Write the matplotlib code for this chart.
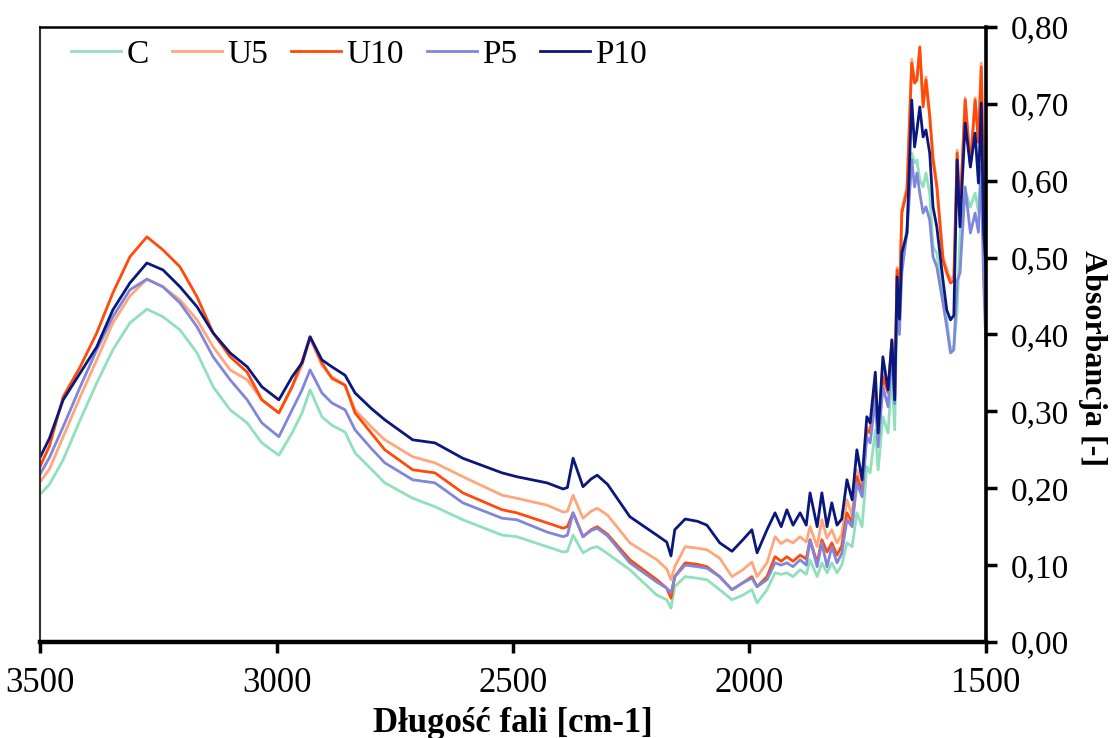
import numpy as np
import matplotlib
matplotlib.use("Agg")
import matplotlib.pyplot as plt

plt.rcParams['font.family'] = ['Liberation Serif', 'DejaVu Serif']

# wavenumber [cm-1] and absorbance
wavenumber = [3500, 3480, 3451, 3415, 3380, 3346, 3310, 3274, 3240, 3204, 3168, 3134, 3098, 3062, 3031,
              2995, 2967, 2946, 2929, 2904, 2883, 2855, 2834, 2800, 2771, 2712, 2665, 2606, 2523, 2492,
              2428, 2394, 2385, 2373, 2352, 2335, 2322, 2300, 2253, 2196, 2175, 2166, 2158, 2136, 2110,
              2090, 2063, 2037, 2014, 1995, 1984, 1963, 1946, 1933, 1921, 1908, 1893, 1880, 1872, 1857,
              1847, 1836, 1826, 1815, 1805, 1794, 1783, 1773, 1762, 1752, 1745, 1734, 1728, 1718, 1707,
              1699, 1693, 1688, 1683, 1678, 1667, 1657, 1651, 1646, 1640, 1633, 1627, 1619, 1612, 1604,
              1591, 1583, 1575, 1568, 1561, 1555, 1544, 1533, 1523, 1516, 1510, 1505, 1500]

C = [0.192, 0.205, 0.237, 0.289, 0.337, 0.380, 0.415, 0.433, 0.423, 0.406, 0.376, 0.332, 0.302, 0.285, 0.259,
     0.243, 0.272, 0.298, 0.328, 0.293, 0.282, 0.273, 0.246, 0.225, 0.207, 0.187, 0.176, 0.159, 0.139, 0.137,
     0.124, 0.117, 0.118, 0.139, 0.116, 0.122, 0.124, 0.115, 0.094, 0.061, 0.055, 0.044, 0.072, 0.085, 0.083,
     0.081, 0.068, 0.055, 0.061, 0.068, 0.051, 0.068, 0.090, 0.088, 0.090, 0.085, 0.094, 0.088, 0.107, 0.085,
     0.103, 0.090, 0.103, 0.090, 0.100, 0.129, 0.124, 0.168, 0.150, 0.228, 0.220, 0.276, 0.224, 0.293, 0.272,
     0.350, 0.276, 0.462, 0.420, 0.497, 0.540, 0.636, 0.623, 0.627, 0.601, 0.592, 0.610, 0.584, 0.514, 0.506,
     0.454, 0.420, 0.380, 0.385, 0.430, 0.532, 0.587, 0.566, 0.584, 0.560, 0.627, 0.480, 0.445]

U5 = [0.208, 0.225, 0.267, 0.319, 0.367, 0.415, 0.450, 0.472, 0.462, 0.445, 0.419, 0.384, 0.354, 0.341, 0.315,
      0.298, 0.332, 0.360, 0.395, 0.360, 0.345, 0.334, 0.302, 0.280, 0.263, 0.241, 0.233, 0.215, 0.191, 0.187,
      0.178, 0.169, 0.170, 0.191, 0.161, 0.170, 0.174, 0.165, 0.129, 0.107, 0.095, 0.081, 0.098, 0.124, 0.122,
      0.120, 0.109, 0.085, 0.094, 0.104, 0.085, 0.103, 0.137, 0.128, 0.133, 0.129, 0.137, 0.130, 0.150, 0.124,
      0.159, 0.135, 0.146, 0.129, 0.140, 0.185, 0.165, 0.224, 0.198, 0.280, 0.276, 0.328, 0.263, 0.350, 0.328,
      0.393, 0.320, 0.487, 0.445, 0.562, 0.592, 0.758, 0.730, 0.735, 0.770, 0.700, 0.735, 0.688, 0.632, 0.596,
      0.502, 0.485, 0.472, 0.475, 0.640, 0.562, 0.708, 0.622, 0.708, 0.655, 0.753, 0.605, 0.565]

U10 = [0.228, 0.255, 0.319, 0.358, 0.402, 0.454, 0.501, 0.527, 0.510, 0.488, 0.449, 0.402, 0.371, 0.351, 0.315,
       0.298, 0.332, 0.365, 0.397, 0.363, 0.343, 0.334, 0.298, 0.272, 0.250, 0.224, 0.220, 0.194, 0.172, 0.168,
       0.155, 0.148, 0.150, 0.168, 0.137, 0.146, 0.150, 0.140, 0.107, 0.081, 0.070, 0.057, 0.085, 0.103, 0.101,
       0.098, 0.085, 0.068, 0.077, 0.085, 0.072, 0.085, 0.111, 0.105, 0.111, 0.105, 0.113, 0.108, 0.133, 0.103,
       0.133, 0.117, 0.129, 0.113, 0.125, 0.168, 0.155, 0.215, 0.194, 0.276, 0.272, 0.324, 0.263, 0.345, 0.324,
       0.390, 0.318, 0.484, 0.445, 0.558, 0.588, 0.753, 0.727, 0.731, 0.774, 0.696, 0.731, 0.683, 0.627, 0.592,
       0.497, 0.480, 0.467, 0.470, 0.636, 0.558, 0.705, 0.618, 0.705, 0.650, 0.748, 0.590, 0.540]

P5 = [0.218, 0.240, 0.280, 0.332, 0.380, 0.423, 0.458, 0.472, 0.462, 0.441, 0.410, 0.371, 0.341, 0.315, 0.285,
      0.267, 0.302, 0.328, 0.354, 0.324, 0.311, 0.302, 0.276, 0.252, 0.233, 0.211, 0.207, 0.181, 0.161, 0.159,
      0.143, 0.137, 0.139, 0.168, 0.137, 0.145, 0.148, 0.138, 0.103, 0.078, 0.070, 0.064, 0.085, 0.100, 0.098,
      0.096, 0.085, 0.068, 0.077, 0.083, 0.072, 0.081, 0.103, 0.100, 0.103, 0.098, 0.107, 0.100, 0.133, 0.098,
      0.129, 0.098, 0.124, 0.103, 0.115, 0.159, 0.150, 0.207, 0.189, 0.267, 0.259, 0.315, 0.254, 0.332, 0.306,
      0.376, 0.310, 0.454, 0.400, 0.480, 0.533, 0.627, 0.592, 0.610, 0.584, 0.558, 0.566, 0.549, 0.501, 0.488,
      0.441, 0.410, 0.376, 0.380, 0.470, 0.480, 0.592, 0.532, 0.558, 0.533, 0.618, 0.467, 0.384]

P10 = [0.240, 0.265, 0.315, 0.350, 0.384, 0.432, 0.467, 0.493, 0.484, 0.462, 0.436, 0.402, 0.376, 0.358, 0.332,
       0.315, 0.345, 0.363, 0.397, 0.367, 0.358, 0.347, 0.324, 0.304, 0.289, 0.263, 0.259, 0.239, 0.220, 0.215,
       0.207, 0.199, 0.201, 0.239, 0.202, 0.212, 0.217, 0.205, 0.163, 0.139, 0.130, 0.112, 0.146, 0.160, 0.157,
       0.152, 0.129, 0.118, 0.133, 0.146, 0.116, 0.146, 0.168, 0.150, 0.172, 0.152, 0.168, 0.152, 0.194, 0.150,
       0.194, 0.150, 0.181, 0.152, 0.160, 0.211, 0.185, 0.250, 0.211, 0.293, 0.285, 0.351, 0.272, 0.371, 0.328,
       0.393, 0.315, 0.475, 0.420, 0.506, 0.532, 0.705, 0.644, 0.666, 0.696, 0.657, 0.666, 0.636, 0.566, 0.540,
       0.471, 0.432, 0.419, 0.425, 0.627, 0.540, 0.675, 0.618, 0.662, 0.597, 0.701, 0.532, 0.488]

labels = ['C', 'U5', 'U10', 'P5', 'P10']
colors = ['#8fe0bb', '#ffa77c', '#ff4a0a', '#7f86dc', '#0a177c']
xticks = [3500, 3000, 2500, 2000, 1500]
yticks = [0.0, 0.1, 0.2, 0.3, 0.4, 0.5, 0.6, 0.7, 0.8]
ytick_labels = ['0,00', '0,10', '0,20', '0,30', '0,40', '0,50', '0,60', '0,70', '0,80']

fig = plt.figure(figsize=(11.14, 7.38), dpi=100)
ax = fig.add_axes([40/1114, 1-642/738, 946/1114, 615/738])

for vals, lab, col in zip([C, U5, U10, P5, P10], labels, colors):
    ax.plot(wavenumber, vals, color=col, lw=2.0, label=lab)

ax.set_xlim(3500, 1500)
ax.set_ylim(0, 0.8)
ax.set_xticks(xticks)
ax.set_xticklabels([str(t) for t in xticks], fontsize=25)
ax.yaxis.tick_right()
ax.yaxis.set_label_position('right')
ax.set_yticks(yticks)
ax.set_yticklabels(ytick_labels, fontsize=24)
ax.tick_params(axis='x', direction='out', length=8, width=2.5, pad=10)
ax.tick_params(axis='y', direction='out', length=8, width=2.5, pad=10)

ax.spines['left'].set_color('#333333')
ax.spines['left'].set_linewidth(1.5)
ax.spines['top'].set_linewidth(1.8)
ax.spines['right'].set_linewidth(2.6)
ax.spines['bottom'].set_linewidth(3.2)

ax.set_xlabel('Długość fali [cm-1]', fontsize=25, fontweight='bold', va='top')
ax.xaxis.set_label_coords(0.5, -0.106)
ax.set_ylabel('Absorbancja [-]', fontsize=23, fontweight='bold', rotation=270,
              ha='center', va='center')
ax.yaxis.set_label_coords(1.113, 0.462)

ax.legend(loc='upper left', bbox_to_anchor=(0.012, 1.012), ncol=5, frameon=False, fontsize=24,
          handlelength=1.5, handletextpad=0.15, columnspacing=0.7, borderaxespad=0.2)

fig.savefig('out.png', dpi=100)
